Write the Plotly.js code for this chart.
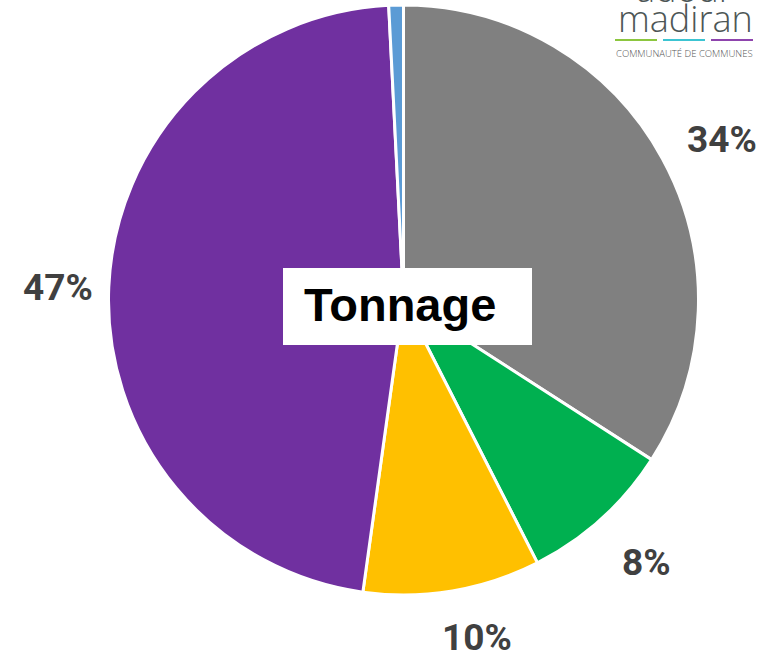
<!DOCTYPE html>
<html>
<head>
<meta charset="utf-8">
<script src="https://cdn.plot.ly/plotly-3.0.1.min.js"></script>
<style>html,body{margin:0;padding:0;background:#fff;}#chart{width:779px;height:654px;}</style>
</head>
<body>
<div id="chart"></div>
<script>
// ---- data ----
const categories = ["Catégorie 1", "Catégorie 2", "Catégorie 3", "Catégorie 4", "Catégorie 5"];
const values = [34.1, 8.4, 9.7, 47.0, 0.8];
const sliceLabels = ["34%", "8%", "10%", "47%", ""];
const colors = ["#808080", "#00b050", "#ffc000", "#7030a0", "#5b9bd5"];
const centerTitle = "Tonnage";

// ---- layout geometry (label nudges in pixels) ----
const W = 779, H = 654;
const CX = 403.5, CY = 300, R = 295;
const LABEL_R = 1.19;
const labelDx = [10, 8, 15, 5, 0];
const labelDy = [8, 2, -9, 3, 0];

const total = values.reduce((a, b) => a + b, 0);
let cum = 0;
const labelAnns = [];
values.forEach((v, i) => {
  const mid = (cum + v / 2) / total * 2 * Math.PI; // clockwise from 12 o'clock
  cum += v;
  if (!sliceLabels[i]) return;
  const px = CX + LABEL_R * R * Math.sin(mid) + labelDx[i];
  const py = CY - LABEL_R * R * Math.cos(mid) + labelDy[i];
  labelAnns.push({
    xref: "paper", yref: "paper", x: px / W, y: 1 - py / H,
    xanchor: "center", yanchor: "middle", showarrow: false,
    text: sliceLabels[i],
    font: {family: "Roboto, 'Open Sans', sans-serif", size: 37, color: "#404040", weight: 700}
  });
});

const trace = {
  type: "pie",
  labels: categories,
  values: values,
  sort: false,
  direction: "clockwise",
  rotation: 0,
  marker: {colors: colors, line: {color: "#ffffff", width: 3}},
  textinfo: "none",
  hoverinfo: "label+percent",
  showlegend: false,
  domain: {x: [(CX - R) / W, (CX + R) / W], y: [1 - (CY + R) / H, 1 - (CY - R) / H]}
};

const logoAnns = [
  {xref: "paper", yref: "paper", x: 684 / W, y: 1 - (-12) / H, xanchor: "center", yanchor: "middle",
   showarrow: false, text: "adour", font: {family: "'Open Sans', sans-serif", size: 36, color: "#4d5656", weight: 300}},
  {xref: "paper", yref: "paper", x: 685 / W, y: 1 - 18 / H, xanchor: "center", yanchor: "middle",
   showarrow: false, text: "madiran", font: {family: "'Open Sans', sans-serif", size: 36, color: "#4d5656", weight: 300}},
  {xref: "paper", yref: "paper", x: 684 / W, y: 1 - 53 / H, xanchor: "center", yanchor: "middle",
   showarrow: false, text: "COMMUNAUTÉ DE COMMUNES", font: {family: "'Open Sans', sans-serif", size: 9.5, color: "#555555", weight: 300}}
];

const titleAnn = {
  xref: "paper", yref: "paper", x: 400 / W, y: 1 - 304.5 / H, xanchor: "center", yanchor: "middle",
  showarrow: false, text: "<b>" + centerTitle + "</b>",
  font: {family: "'Liberation Sans', Arial, sans-serif", size: 47, color: "#000000"}
};

const shapes = [
  {type: "rect", xref: "paper", yref: "paper", x0: 283 / W, x1: 532 / W, y0: 1 - 345 / H, y1: 1 - 268 / H,
   fillcolor: "#ffffff", line: {width: 0}, layer: "above"},
  {type: "line", xref: "paper", yref: "paper", x0: 615 / W, x1: 657 / W, y0: 1 - 40 / H, y1: 1 - 40 / H, line: {color: "#8cc63f", width: 2}},
  {type: "line", xref: "paper", yref: "paper", x0: 663 / W, x1: 705 / W, y0: 1 - 40 / H, y1: 1 - 40 / H, line: {color: "#3cc4d2", width: 2}},
  {type: "line", xref: "paper", yref: "paper", x0: 711 / W, x1: 753 / W, y0: 1 - 40 / H, y1: 1 - 40 / H, line: {color: "#8e44ad", width: 2}}
];

const layout = {
  width: W, height: H,
  margin: {l: 0, r: 0, t: 0, b: 0},
  paper_bgcolor: "#ffffff",
  plot_bgcolor: "#ffffff",
  showlegend: false,
  shapes: shapes,
  annotations: labelAnns.concat(logoAnns, [titleAnn])
};

Plotly.newPlot("chart", [trace], layout, {displayModeBar: false, staticPlot: true});
</script>
</body>
</html>
